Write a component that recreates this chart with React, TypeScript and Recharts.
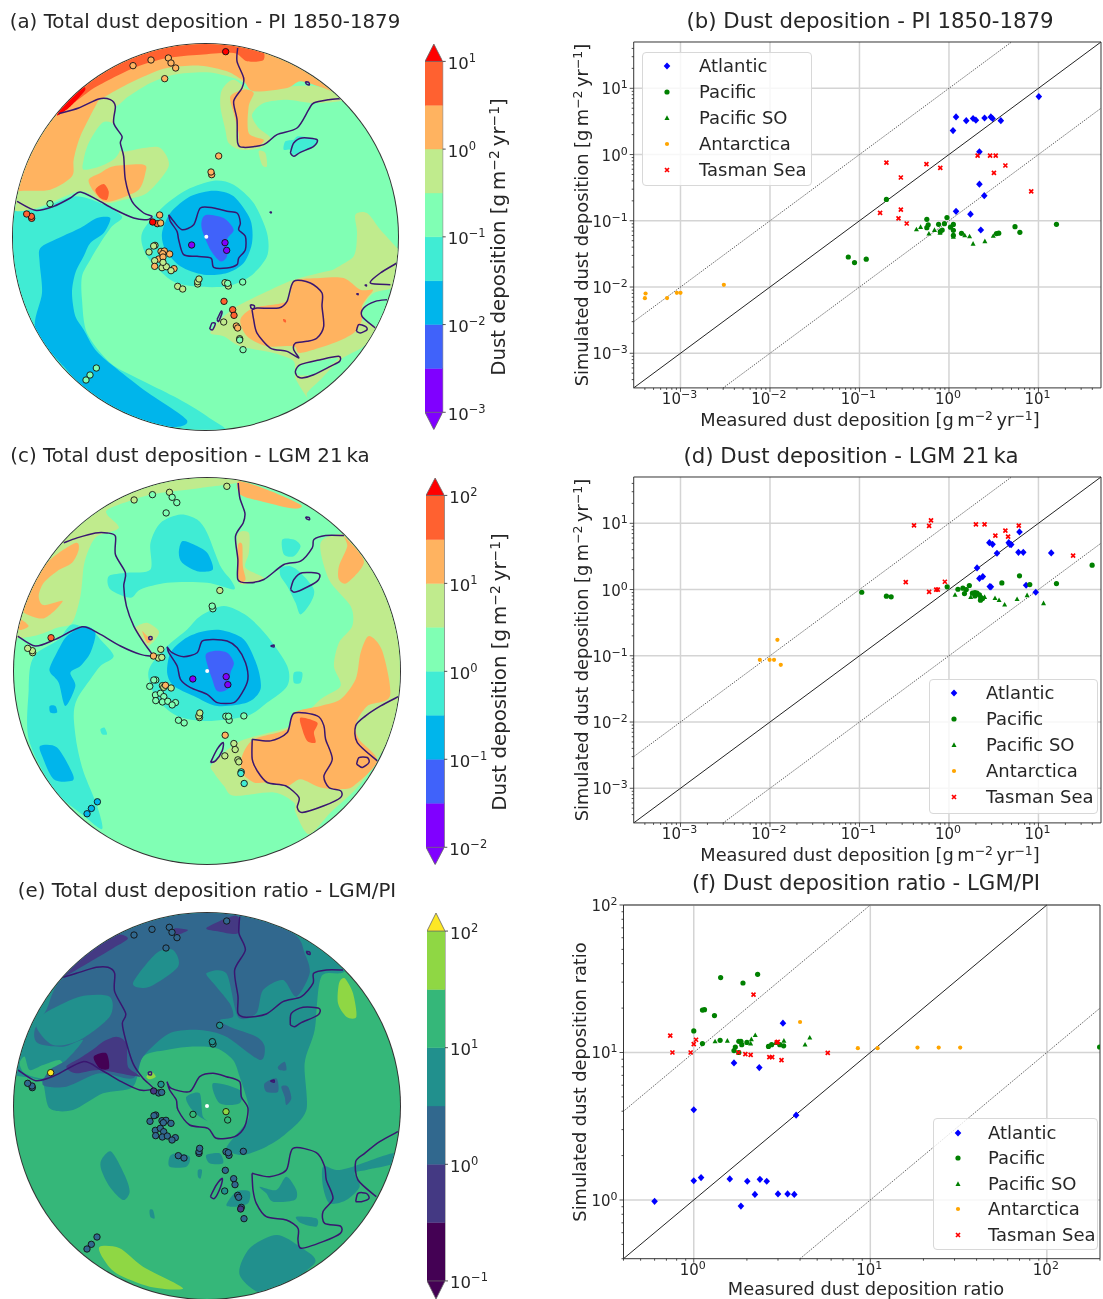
import React from "react";
import { ScatterChart, Scatter, XAxis, YAxis, ReferenceLine, Legend } from "recharts";

type Pt = [number, number];
type Region = [number, Pt[]];
type Station = [number, number, number];

// scatter panels: [measured, simulated]
const seriesNames = ["Atlantic", "Pacific", "Pacific SO", "Antarctica", "Tasman Sea"];

const atlanticPI: Pt[] = [[10.1, 7.5], [1.2, 3.7], [1.56, 3.25], [1.86, 3.5], [2.0, 3.3], [2.5, 3.56], [2.94, 3.7], [3.07, 3.5], [3.8, 3.25], [1.11, 2.3], [2.19, 1.1], [2.19, 0.357], [2.48, 0.239], [1.2, 0.139], [1.74, 0.126], [2.27, 0.0726]];
const pacificPI: Pt[] = [[0.2, 0.21], [0.566, 0.105], [0.95, 0.112], [0.586, 0.087], [0.566, 0.0787], [0.766, 0.0883], [0.89, 0.0904], [1.04, 0.08], [1.12, 0.088], [1.12, 0.0718], [0.84, 0.0726], [0.8, 0.0685], [1.38, 0.0646], [3.4, 0.064], [3.6, 0.065], [5.47, 0.0814], [6.2, 0.067], [15.9, 0.0883], [0.075, 0.0284], [0.088, 0.0234], [0.119, 0.0263], [1.12, 0.06]];
const pacificSoPI: Pt[] = [[0.433, 0.074], [0.482, 0.0805], [0.689, 0.0726], [0.597, 0.064], [0.794, 0.066], [1.12, 0.057], [1.5, 0.06], [1.7, 0.058], [1.86, 0.045], [2.52, 0.049], [3.13, 0.059]];
const antarcticaPI: Pt[] = [[0.000407, 0.00798], [0.0004, 0.00679], [0.000708, 0.0068], [0.00091, 0.00817], [0.001, 0.00817], [0.00305, 0.0108]];
const tasmanPI: Pt[] = [[0.17, 0.132], [0.2, 0.757], [0.29, 0.45], [0.29, 0.147], [0.273, 0.109], [0.337, 0.091], [0.56, 0.715], [0.8, 0.63], [2.09, 0.966], [2.88, 0.966], [3.33, 0.966], [4.27, 0.683], [3.18, 0.53], [8.3, 0.277]];

const atlanticLGM: Pt[] = [[6.14, 7.4], [2.83, 5.1], [3.07, 4.82], [4.66, 5.1], [4.79, 4.82], [4.96, 4.77], [3.44, 3.53], [5.98, 3.65], [6.77, 3.65], [13.9, 3.57], [2.06, 2.12], [2.19, 1.47], [2.39, 1.57], [2.86, 1.11], [2.94, 1.1], [7.28, 1.16], [9.33, 0.91]];
const pacificLGM: Pt[] = [[0.106, 0.91], [0.2, 0.794], [0.226, 0.775], [0.955, 1.1], [1.26, 1.01], [1.43, 1.05], [1.56, 1.0], [1.49, 0.87], [1.69, 1.15], [1.83, 0.88], [1.95, 0.9], [2.06, 0.88], [1.95, 0.8], [2.19, 0.83], [2.27, 0.76], [2.25, 0.69], [2.37, 0.73], [3.9, 1.26], [6.14, 1.61], [15.9, 1.23], [8.0, 1.19], [39.8, 2.33]];
const pacificSoLGM: Pt[] = [[1.17, 0.83], [1.75, 0.77], [2.5, 0.77], [3.27, 0.74], [3.63, 0.69], [4.19, 0.59], [5.77, 0.715], [7.47, 0.82], [11.4, 0.62]];
const antarcticaLGM: Pt[] = [[0.0121, 0.174], [0.0077, 0.087], [0.0099, 0.087], [0.0111, 0.087], [0.0132, 0.073]];
const tasmanLGM: Pt[] = [[0.407, 9.33], [0.6, 9.12], [0.63, 11.1], [2.0, 9.66], [2.5, 9.66], [6.03, 9.23], [4.27, 7.75], [3.3, 6.5], [4.58, 6.3], [24.4, 3.26], [0.329, 1.29], [0.9, 1.31], [0.72, 1.0], [0.75, 1.0], [0.6, 0.92]];

const atlanticRatio: Pt[] = [[0.6, 0.98], [1.0, 1.35], [1.1, 1.42], [1.6, 1.39], [2.01, 1.34], [2.37, 1.38], [2.59, 1.34], [2.22, 1.09], [1.85, 0.91], [3.0, 1.1], [3.4, 1.1], [3.71, 1.09], [3.8, 3.76], [1.0, 4.09], [1.69, 8.5], [2.35, 7.9], [3.2, 15.8]];
const pacificRatio: Pt[] = [[1.42, 32.2], [1.9, 29.6], [2.3, 33.9], [1.12, 19.4], [1.15, 19.5], [1.31, 17.8], [1.0, 14], [1.12, 11.5], [1.41, 12.1], [1.8, 11.9], [1.85, 11.9], [1.87, 11.3], [1.72, 10.9], [1.69, 10.3], [1.8, 10], [2.0, 11.7], [2.65, 11], [2.76, 11.3], [3.07, 11.3], [3.23, 11.1], [199, 10.9]];
const pacificSoRatio: Pt[] = [[1.32, 11.9], [1.55, 12], [2.12, 12.3], [2.1, 11.5], [2.23, 13.1], [3.24, 12], [2.9, 11.6], [4.27, 11.3], [4.54, 12.6]];
const antarcticaRatio: Pt[] = [[4.0, 16.1], [8.5, 10.7], [11, 10.7], [18.5, 10.8], [24.4, 10.8], [32.3, 10.8]];
const tasmanRatio: Pt[] = [[0.736, 13], [0.757, 10], [0.96, 10], [1.0, 11.4], [1.03, 12.2], [1.79, 10], [1.96, 9.75], [2.1, 9.64], [2.68, 9.3], [2.78, 9.3], [3.14, 8.87], [2.18, 24.7], [2.99, 11.8], [2.95, 11.7], [5.74, 9.95]];

const depMajor = [0.001, 0.01, 0.1, 1, 10];
const depMinor = [0.0004, 0.0005, 0.0006, 0.0007, 0.0008, 0.0009, 0.002, 0.003, 0.004, 0.005, 0.006, 0.007, 0.008, 0.009, 0.02, 0.03, 0.04, 0.05, 0.06, 0.07, 0.08, 0.09, 0.2, 0.3, 0.4, 0.5, 0.6, 0.7, 0.8, 0.9, 2, 3, 4, 5, 6, 7, 8, 9, 20, 30, 40];
const ratioMajorX = [1, 10, 100];
const ratioMajorY = [1, 10, 100];
const ratioMinorX = [0.4, 0.5, 0.6, 0.7, 0.8, 0.9, 2, 3, 4, 5, 6, 7, 8, 9, 20, 30, 40, 50, 60, 70, 80, 90, 200];
const ratioMinorY = [0.4, 0.5, 0.6, 0.7, 0.8, 0.9, 2, 3, 4, 5, 6, 7, 8, 9, 20, 30, 40, 50, 60, 70, 80, 90];

// contour levels, low to high
const rainbow = ["#8000ff", "#4062fa", "#00b5eb", "#40ecd4", "#80ffb4", "#c0eb8d", "#ffb360", "#ff6130", "#ff0000"];
const viridis = ["#440154", "#443983", "#31688e", "#21908d", "#35b779", "#8fd744", "#fde725"];
const P = 0, B = 1, S = 2, T = 3, M = 4, L = 5, O = 6, F = 7, R = 8;
const DK = 0, IN = 1, BL = 2, TE = 3, GR = 4, LI = 5, YE = 6;

// map units: x/y across the disc
const mapARegions: Region[] = [
  [T, [[20, 620], [110, 630], [220, 590], [300, 610], [365, 650], [335, 680], [300, 730], [270, 780], [245, 830], [245, 900], [260, 1000], [330, 1090], [420, 1140], [520, 1190], [620, 1250], [680, 1310], [400, 1320], [100, 1150], [0, 800]]],
  [S, [[120, 745], [175, 715], [240, 685], [290, 655], [330, 655], [310, 700], [270, 730], [250, 770], [225, 820], [215, 880], [225, 950], [250, 990], [285, 1050], [340, 1100], [430, 1170], [560, 1262], [490, 1280], [300, 1210], [190, 1100], [105, 990], [125, 880], [118, 790]]],
  [T, [[425, 700], [490, 620], [560, 570], [640, 543], [700, 555], [760, 610], [800, 700], [800, 770], [750, 830], [680, 860], [580, 860], [510, 840], [440, 770]]],
  [S, [[485, 700], [510, 640], [570, 590], [640, 573], [700, 590], [750, 660], [755, 730], [730, 790], [680, 820], [610, 825], [540, 800], [495, 750]]],
  [B, [[605, 660], [620, 645], [670, 655], [700, 690], [680, 720], [680, 770], [660, 785], [630, 750], [605, 690]]],
  [L, [[30, 625], [110, 625], [240, 575], [310, 610], [370, 600], [440, 580], [505, 500], [480, 445], [430, 445], [365, 455], [345, 420], [340, 370], [345, 305], [295, 295], [170, 340], [0, 500]]],
  [M, [[250, 480], [265, 430], [305, 370], [340, 375], [360, 440], [345, 475], [300, 500], [250, 510]]],
  [O, [[0, 600], [55, 575], [150, 570], [215, 530], [220, 480], [240, 410], [290, 310], [300, 295], [180, 335], [100, 400], [0, 500]]],
  [O, [[265, 540], [300, 520], [340, 500], [430, 495], [435, 520], [415, 570], [350, 600], [310, 605], [280, 575]]],
  [F, [[285, 570], [310, 553], [325, 575], [320, 600], [300, 595]]],
  [L, [[300, 300], [345, 320], [385, 290], [450, 250], [520, 225], [620, 218], [700, 235], [740, 250], [735, 190], [600, 180], [400, 200]]],
  [L, [[665, 270], [700, 240], [760, 275], [870, 260], [960, 262], [1030, 300], [940, 310], [860, 300], [790, 310], [755, 345], [775, 385], [810, 415], [780, 445], [720, 450], [685, 430], [675, 390], [660, 320]]],
  [L, [[775, 455], [795, 460], [800, 500], [785, 495]]],
  [O, [[690, 290], [730, 270], [760, 280], [745, 320], [745, 400], [790, 420], [770, 440], [720, 440], [715, 400], [700, 340]]],
  [O, [[170, 345], [295, 300], [350, 270], [420, 235], [500, 205], [600, 198], [680, 215], [730, 245], [760, 275], [860, 265], [900, 245], [960, 262], [1010, 275], [900, 170], [700, 90], [400, 90], [140, 300]]],
  [F, [[172, 342], [240, 295], [290, 260], [400, 205], [500, 175], [600, 165], [700, 160], [740, 185], [790, 180], [770, 140], [600, 110], [400, 140], [160, 320]]],
  [R, [[170, 345], [205, 325], [255, 270], [230, 265]]],
  [L, [[630, 1000], [660, 960], [710, 920], [790, 880], [880, 840], [1000, 810], [1090, 790], [1195, 755], [1210, 800], [1190, 860], [1120, 880], [1090, 920], [1085, 960], [1130, 985], [1090, 1040], [1020, 1080], [960, 1140], [920, 1180], [925, 1200], [885, 1135], [880, 1085], [820, 1060], [720, 1040], [670, 1010]]],
  [L, [[1065, 645], [1100, 640], [1140, 690], [1185, 740], [1200, 770], [1000, 815], [1060, 770], [1070, 700]]],
  [O, [[720, 960], [760, 925], [860, 905], [880, 845], [960, 835], [1030, 835], [1080, 870], [1118, 870], [1100, 895], [1085, 920], [1085, 960], [1060, 1000], [1000, 1030], [900, 1060], [880, 1040], [800, 1040], [740, 1010]]],
  [T, [[855, 425], [880, 420], [895, 410], [950, 420], [940, 440], [880, 465], [870, 450], [850, 450]]],
  [M, [[1090, 930], [1160, 895], [1130, 980]]],
  [M, [[890, 1125], [900, 1097], [1010, 1075], [985, 1100], [940, 1125]]],
  [F, [[848, 958], [856, 960], [857, 968], [850, 966]]],
];
const mapACoasts: Pt[][] = [
  [[50, 605], [105, 632], [160, 620], [210, 595], [240, 577], [290, 600], [340, 628], [400, 655], [440, 660], [455, 650], [430, 640], [395, 605], [375, 540], [370, 470], [360, 430], [365, 410], [340, 370], [345, 320], [330, 300], [295, 298], [235, 325], [175, 342]],
  [[712, 145], [710, 185], [730, 235], [725, 265], [700, 305], [710, 360], [712, 430], [730, 443], [790, 435], [830, 405], [890, 385], [925, 330], [940, 310], [985, 300], [1020, 297]],
  [[505, 645], [520, 665], [545, 690], [580, 675], [600, 625], [640, 625], [680, 635], [710, 640], [720, 670], [715, 690], [735, 710], [735, 750], [715, 775], [710, 795], [680, 805], [640, 803], [632, 775], [590, 770], [550, 765], [535, 720], [530, 695], [510, 665], [505, 645]],
  [[870, 460], [880, 430], [905, 415], [950, 420], [940, 440], [900, 458], [880, 470], [870, 460]],
  [[755, 930], [770, 925], [835, 925], [860, 905], [880, 845], [930, 850], [965, 880], [965, 920], [970, 980], [950, 1015], [920, 1025], [885, 1030], [880, 1050], [895, 1075], [860, 1055], [810, 1045], [770, 1000], [760, 960], [755, 930]],
  [[890, 1130], [885, 1115], [900, 1095], [960, 1080], [1015, 1070], [1018, 1085], [990, 1100], [940, 1125], [905, 1135], [890, 1130]],
  [[1190, 790], [1140, 820], [1110, 850], [1170, 855]],
  [[1160, 900], [1125, 905], [1090, 925], [1085, 950], [1125, 985]],
  [[1068, 995], [1075, 975], [1095, 980], [1100, 990], [1080, 1000], [1068, 995]],
  [[750, 915], [762, 918], [760, 928], [752, 925], [750, 915]],
  [[650, 960], [662, 935], [665, 940], [655, 965], [650, 960]],
  [[628, 988], [635, 970], [645, 972], [637, 990], [628, 988]],
  [[915, 246], [925, 248], [927, 256], [918, 253], [915, 246]],
  [[808, 637], [813, 637], [812, 640], [808, 637]],
  [[1093, 856], [1098, 856], [1098, 859], [1093, 856]],
  [[1068, 882], [1073, 882], [1073, 885], [1068, 882]],
];
const mapAStations: Station[] = [[398, 198, O], [452, 181, O], [504, 175, O], [512, 190, O], [526, 205, O], [493, 237, O], [676, 156, R], [655, 469, O], [634, 525, O], [632, 517, O], [149, 612, M], [94, 656, F], [93, 650, F], [79, 643, F], [478, 646, O], [471, 672, F], [481, 670, O], [457, 667, R], [574, 736, P], [674, 729, P], [679, 752, P], [464, 737, L], [460, 739, L], [446, 757, L], [482, 755, O], [492, 754, O], [508, 763, O], [487, 762, O], [475, 778, O], [463, 783, L], [488, 772, O], [463, 800, O], [485, 804, L], [498, 801, L], [488, 788, L], [521, 807, O], [512, 813, L], [592, 853, L], [592, 846, L], [596, 838, L], [532, 860, L], [547, 868, L], [674, 849, L], [684, 859, L], [682, 851, M], [727, 847, M], [671, 905, F], [697, 930, F], [701, 947, F], [670, 967, L], [708, 979, O], [712, 985, O], [718, 1017, L], [718, 1021, M], [728, 1050, M], [288, 1105, M], [269, 1126, M], [257, 1141, M]];
const mapAPole: Pt[] = [[618, 711]];

const mapCRegions: Region[] = [
  [L, [[80, 420], [200, 270], [320, 140], [600, 90], [720, 125], [600, 145], [450, 165], [330, 205], [320, 225], [355, 265], [290, 290], [265, 330], [250, 380], [240, 470], [215, 550], [170, 565], [100, 590], [30, 590], [30, 500]]],
  [O, [[225, 310], [150, 360], [90, 440], [62, 510], [130, 537], [187, 485], [130, 497], [115, 470], [130, 430], [170, 395], [215, 370], [235, 330]]],
  [O, [[60, 540], [85, 560], [60, 572], [45, 560]]],
  [L, [[635, 975], [720, 905], [870, 860], [960, 780], [1020, 740], [1000, 680], [1015, 610], [1055, 560], [1050, 500], [985, 420], [960, 310], [1030, 285], [1110, 350], [1230, 560], [1230, 780], [1130, 960], [1070, 1045], [990, 1120], [925, 1185], [885, 1120], [880, 1090], [820, 1060], [700, 1070], [670, 1040], [640, 1000]]],
  [O, [[725, 950], [760, 900], [860, 870], [880, 820], [960, 800], [1020, 780], [1065, 720], [1080, 640], [1105, 590], [1145, 635], [1168, 770], [1100, 800], [1065, 855], [1075, 900], [1130, 965], [1060, 1040], [1020, 1050], [960, 1045], [900, 1020], [860, 1040], [800, 1030], [760, 1030], [725, 1000]]],
  [O, [[715, 125], [800, 150], [900, 195], [880, 207], [790, 187], [720, 165]]],
  [O, [[1015, 380], [1040, 320], [1030, 290], [1090, 365], [1040, 430], [1015, 420]]],
  [F, [[900, 835], [950, 850], [940, 880], [945, 910], [920, 905], [905, 870]]],
  [L, [[405, 565], [440, 550], [475, 575], [465, 600], [440, 620], [420, 590]]],
  [O, [[425, 575], [440, 590], [455, 600], [440, 610]]],
  [L, [[710, 290], [745, 280], [745, 340], [735, 385], [790, 415], [755, 430], [715, 425]]],
  [O, [[712, 320], [725, 315], [727, 380], [735, 420], [715, 425]]],
  [T, [[450, 310], [480, 250], [540, 225], [590, 240], [620, 280], [660, 380], [690, 420], [700, 450], [620, 430], [500, 430], [420, 450], [390, 475], [330, 450], [325, 410], [380, 400], [450, 390]]],
  [S, [[535, 340], [545, 305], [580, 315], [620, 340], [637, 390], [590, 395], [545, 370]]],
  [T, [[845, 300], [880, 300], [900, 320], [880, 350], [850, 345]]],
  [T, [[840, 385], [870, 380], [900, 400], [940, 450], [930, 490], [900, 525], [885, 490], [860, 440], [840, 410]]],
  [T, [[450, 680], [500, 620], [560, 570], [600, 530], [670, 500], [740, 530], [800, 590], [860, 680], [860, 740], [800, 790], [740, 830], [620, 845], [530, 830], [470, 780], [445, 720]]],
  [S, [[500, 700], [510, 640], [550, 600], [600, 578], [660, 572], [730, 600], [770, 680], [780, 750], [740, 790], [650, 800], [580, 770], [520, 740]]],
  [B, [[615, 650], [640, 635], [680, 640], [700, 670], [690, 700], [680, 750], [650, 755], [635, 720]]],
  [T, [[90, 680], [110, 640], [175, 600], [215, 555], [280, 580], [300, 600], [340, 650], [300, 680], [270, 720], [230, 780], [220, 830], [230, 920], [250, 1000], [290, 1100], [305, 1170], [250, 1130], [160, 1050], [85, 900], [85, 750]]],
  [S, [[150, 680], [180, 620], [200, 590], [250, 560], [285, 580], [270, 640], [240, 680], [210, 700], [225, 740], [195, 800], [175, 730], [150, 700]]],
  [S, [[120, 920], [170, 925], [215, 1000], [215, 1025], [160, 1020], [125, 950]]],
  [S, [[148, 800], [165, 800], [170, 820], [150, 820]]],
  [T, [[880, 700], [905, 700], [900, 730], [880, 730]]],
  [T, [[300, 870], [312, 865], [320, 885], [305, 885]]],
];
const mapCCoasts: Pt[][] = [
  [[52, 590], [105, 620], [165, 600], [245, 562], [300, 585], [360, 620], [420, 645], [455, 647], [430, 610], [400, 560], [378, 500], [370, 440], [375, 400], [345, 345], [345, 290], [320, 280], [285, 280], [230, 295], [190, 310]],
  [[713, 130], [718, 175], [733, 220], [728, 250], [705, 290], [712, 360], [712, 420], [740, 430], [790, 420], [850, 375], [900, 365], [935, 325], [940, 300], [975, 288], [1030, 288]],
  [[500, 622], [515, 640], [550, 652], [590, 640], [605, 605], [640, 600], [680, 605], [710, 625], [735, 670], [742, 720], [725, 760], [700, 790], [650, 790], [620, 765], [570, 745], [540, 720], [530, 680], [505, 640], [500, 622]],
  [[870, 450], [880, 420], [905, 400], [955, 403], [950, 425], [905, 450], [880, 458], [870, 450]],
  [[755, 900], [810, 905], [860, 880], [880, 822], [950, 830], [970, 860], [975, 900], [995, 960], [970, 1010], [985, 1045], [1020, 1055], [1020, 1075], [970, 1100], [905, 1120], [890, 1105], [895, 1075], [855, 1040], [800, 1030], [770, 995], [755, 960], [755, 900]],
  [[1193, 772], [1140, 800], [1095, 830], [1065, 860], [1070, 910], [1130, 965]],
  [[1068, 975], [1075, 955], [1100, 955], [1105, 970], [1085, 985], [1068, 975]],
  [[630, 970], [650, 930], [668, 910], [665, 935], [645, 965], [630, 970]],
  [[445, 592], [454, 592], [454, 600], [446, 600], [445, 592]],
  [[810, 620], [820, 617], [820, 623], [810, 620]],
  [[915, 232], [925, 233], [927, 240], [918, 238], [915, 232]],
];
const mapCStations: Station[] = [[401, 181, L], [456, 165, M], [507, 158, L], [515, 173, M], [529, 189, M], [497, 220, M], [679, 140, L], [658, 453, L], [637, 508, M], [635, 500, M], [152, 595, F], [97, 640, L], [96, 634, L], [82, 627, L], [481, 630, L], [474, 656, L], [484, 654, L], [459, 650, O], [577, 719, P], [677, 712, P], [682, 736, P], [466, 722, M], [460, 722, M], [448, 741, M], [486, 739, L], [490, 744, L], [495, 738, O], [512, 746, L], [465, 767, M], [480, 762, M], [490, 772, M], [466, 784, M], [486, 788, M], [502, 786, M], [525, 790, M], [515, 797, M], [597, 835, L], [595, 830, L], [598, 821, L], [534, 843, M], [551, 851, M], [676, 831, M], [686, 843, M], [684, 831, M], [730, 830, M], [674, 888, O], [700, 913, L], [704, 931, L], [673, 950, L], [712, 962, L], [715, 968, L], [722, 998, T], [721, 1003, T], [731, 1033, T], [291, 1088, S], [273, 1108, S], [260, 1124, S]];
const mapCPole: Pt[] = [[620, 695]];

const mapERegions: Region[] = [
  [TE, [[30, 605], [100, 625], [130, 640], [150, 715], [220, 720], [310, 670], [400, 650], [430, 560], [500, 540], [570, 530], [650, 535], [700, 570], [720, 620], [745, 700], [745, 750], [700, 805], [680, 840], [730, 855], [800, 830], [860, 790], [920, 720], [915, 580], [945, 480], [965, 320], [1040, 295], [1020, 90], [100, 90], [20, 500]]],
  [GR, [[60, 580], [75, 560], [90, 600], [130, 585], [180, 570], [190, 600], [130, 625], [75, 610]]],
  [BL, [[130, 645], [200, 650], [300, 610], [400, 625], [430, 560], [510, 490], [600, 480], [680, 500], [780, 570], [795, 530], [770, 500], [690, 470], [660, 450], [700, 440], [690, 400], [650, 350], [620, 310], [680, 310], [715, 440], [770, 430], [790, 360], [850, 330], [890, 380], [930, 310], [915, 250], [880, 190], [700, 110], [400, 130], [190, 320], [140, 420], [105, 480], [115, 520], [190, 530], [250, 510], [200, 570], [150, 600]]],
  [TE, [[400, 340], [470, 250], [520, 240], [535, 290], [450, 350]]],
  [TE, [[110, 470], [135, 430], [240, 380], [330, 380], [330, 440], [240, 510], [160, 525]]],
  [IN, [[190, 322], [230, 300], [340, 235], [385, 205], [340, 195], [240, 250], [180, 320]]],
  [IN, [[620, 175], [680, 145], [715, 140], [715, 190], [660, 185]]],
  [IN, [[525, 175], [565, 180], [530, 195]]],
  [IN, [[200, 590], [240, 565], [285, 535], [310, 515], [350, 500], [380, 520], [385, 590], [420, 620], [300, 600], [230, 610]]],
  [DK, [[282, 560], [320, 550], [328, 595], [300, 595]]],
  [BL, [[795, 640], [830, 625], [835, 665], [800, 665]]],
  [BL, [[835, 590], [855, 575], [860, 600], [840, 600]]],
  [BL, [[845, 650], [865, 650], [875, 685], [860, 705], [855, 680]]],
  [TE, [[640, 640], [720, 660], [720, 700], [660, 700]]],
  [TE, [[560, 680], [600, 670], [610, 740], [640, 760], [600, 740], [570, 710]]],
  [TE, [[780, 950], [830, 960], [860, 920], [890, 960], [885, 990], [820, 995], [800, 970]]],
  [TE, [[890, 1040], [950, 1045], [950, 1070], [905, 1060]]],
  [TE, [[970, 890], [1010, 900], [1060, 890], [1180, 850], [1185, 880], [1100, 900], [1065, 910], [1080, 950], [1040, 990], [990, 1000], [970, 950]]],
  [TE, [[720, 1215], [750, 1135], [830, 1095], [900, 1130], [945, 1180], [800, 1270]]],
  [TE, [[305, 870], [335, 845], [375, 915], [390, 965], [370, 990], [330, 950], [305, 900]]],
  [TE, [[680, 1005], [710, 965], [750, 965], [745, 1000], [710, 1010]]],
  [TE, [[620, 855], [660, 850], [670, 880], [630, 880]]],
  [TE, [[510, 860], [530, 850], [570, 860], [560, 890], [510, 890]]],
  [TE, [[450, 1020], [460, 1020], [465, 1045], [452, 1040]]],
  [TE, [[595, 900], [607, 900], [603, 925], [595, 920]]],
  [LI, [[300, 1130], [360, 1135], [430, 1190], [550, 1255], [450, 1250], [350, 1210], [310, 1165]]],
  [LI, [[1018, 340], [1035, 325], [1060, 370], [1070, 440], [1040, 440], [1015, 400]]],
  [LI, [[440, 620], [455, 605], [468, 620], [450, 628]]],
];
const mapECoasts: Pt[][] = [
  [[55, 600], [108, 632], [165, 617], [250, 575], [305, 600], [365, 635], [420, 660], [460, 655], [430, 625], [400, 580], [378, 510], [368, 460], [378, 430], [345, 365], [345, 310], [325, 292], [290, 292], [230, 310], [190, 322]],
  [[720, 140], [718, 190], [737, 240], [705, 300], [715, 380], [715, 430], [740, 442], [800, 432], [850, 395], [905, 380], [940, 340], [942, 310], [980, 300], [1030, 300]],
  [[502, 635], [515, 655], [570, 665], [600, 620], [640, 610], [680, 620], [720, 635], [725, 680], [745, 715], [735, 770], [705, 800], [650, 805], [625, 775], [570, 765], [535, 720], [530, 690], [510, 660], [502, 635]],
  [[872, 465], [875, 430], [910, 412], [958, 415], [955, 435], [905, 458], [885, 470], [872, 465]],
  [[757, 910], [810, 920], [860, 900], [880, 835], [950, 848], [975, 890], [980, 930], [1000, 985], [970, 1025], [975, 1060], [1022, 1068], [1022, 1090], [970, 1115], [905, 1135], [895, 1110], [895, 1075], [860, 1050], [800, 1040], [770, 1000], [760, 960], [757, 910]],
  [[1195, 785], [1140, 815], [1095, 850], [1068, 875], [1075, 930], [1130, 980]],
  [[1068, 995], [1075, 970], [1100, 970], [1108, 985], [1085, 995], [1068, 995]],
  [[632, 980], [650, 945], [668, 925], [663, 950], [645, 985], [632, 980]],
  [[446, 606], [455, 606], [455, 614], [447, 614], [446, 606]],
  [[812, 633], [823, 630], [823, 637], [812, 633]],
  [[920, 244], [930, 246], [931, 253], [923, 251], [920, 244]],
];
const mapEStations: Station[] = [[403, 195, BL], [457, 178, BL], [509, 172, BL], [517, 187, BL], [532, 203, BL], [499, 234, BL], [681, 153, BL], [660, 466, TE], [640, 522, TE], [638, 515, TE], [153, 608, YE], [98, 653, BL], [97, 648, BL], [84, 640, BL], [484, 643, TE], [477, 669, BL], [486, 667, BL], [462, 663, IN], [580, 733, GR], [679, 725, LI], [684, 750, GR], [468, 735, BL], [463, 737, BL], [451, 754, BL], [487, 752, BL], [499, 751, BL], [514, 760, BL], [491, 758, BL], [467, 781, BL], [482, 775, BL], [492, 785, BL], [468, 797, BL], [488, 801, BL], [503, 798, BL], [527, 803, BL], [517, 810, BL], [598, 850, BL], [598, 845, BL], [600, 835, BL], [536, 857, BL], [553, 864, BL], [679, 845, BL], [688, 856, BL], [686, 848, BL], [731, 844, BL], [677, 901, BL], [702, 926, BL], [706, 944, BL], [675, 963, TE], [714, 976, BL], [717, 982, BL], [725, 1012, BL], [723, 1017, IN], [733, 1046, BL], [292, 1101, BL], [275, 1123, BL], [262, 1137, BL]];
const mapEPole: Pt[] = [[622, 708]];

const font = "'DejaVu Sans', sans-serif";
const ink = "#262626";

const exponent = (v: number) => String(Math.round(Math.log10(v))).replace("-", "\u2212");

function Sup({ children }: { children: React.ReactNode }) {
  return <sup style={{ fontSize: "0.7em", lineHeight: 0, verticalAlign: "baseline", position: "relative", top: "-0.45em" }}>{children}</sup>;
}

const Units = () => (
  <>
    [g&#8201;m<Sup>{"\u2212"}2</Sup>&#8201;yr<Sup>{"\u2212"}1</Sup>]
  </>
);

function Caption({ x, y, size, rotate, children }: { x: number; y: number; size: number; rotate?: boolean; children: React.ReactNode }) {
  return (
    <div
      style={{
        position: "absolute",
        left: x,
        top: y,
        fontSize: size,
        lineHeight: 1,
        color: ink,
        whiteSpace: "nowrap",
        transform: `translate(-50%,-50%)${rotate ? " rotate(-90deg)" : ""}`,
      }}
    >
      {children}
    </div>
  );
}

const toXY = (pts: Pt[]) => pts.map(([x, y]) => ({ x, y }));

// cardinal spline through the outline points
function splinePath(points: { x: number; y: number }[], closed: boolean) {
  const n = points.length;
  const k = 0.14;
  const at = (i: number) => (closed ? points[(i + n) % n] : points[Math.max(0, Math.min(n - 1, i))]);
  let d = `M${points[0].x},${points[0].y}`;
  const last = closed ? n : n - 1;
  for (let i = 0; i < last; i++) {
    const p0 = at(i - 1), p1 = at(i), p2 = at(i + 1), p3 = at(i + 2);
    d += `C${p1.x + (p2.x - p0.x) * k},${p1.y + (p2.y - p0.y) * k} ${p2.x - (p3.x - p1.x) * k},${p2.y - (p3.y - p1.y) * k} ${p2.x},${p2.y}`;
  }
  return closed ? d + "Z" : d;
}

const noDot = () => <g />;

function MapPanel({ left, top, size, xDomain, yDomain, palette, base, regions, coasts, stations, pole }: any) {
  return (
    <div style={{ position: "absolute", left, top, width: size, height: size, borderRadius: "50%", overflow: "hidden", background: palette[base], boxShadow: "0 0 0 1px #333" }}>
      <ScatterChart width={size} height={size} margin={{ top: 0, right: 0, bottom: 0, left: 0 }}>
        <XAxis type="number" dataKey="x" domain={xDomain} hide allowDataOverflow />
        <YAxis type="number" dataKey="y" domain={yDomain} hide reversed allowDataOverflow />
        {regions.map(([band, pts]: Region, i: number) => (
          <Scatter
            key={`r${i}`}
            data={toXY(pts)}
            isAnimationActive={false}
            shape={noDot}
            line={(p: any) => <path d={splinePath(p.points, true)} fill={palette[band]} stroke="none" />}
          />
        ))}
        {coasts.map((pts: Pt[], i: number) => (
          <Scatter
            key={`c${i}`}
            data={toXY(pts)}
            isAnimationActive={false}
            shape={noDot}
            line={(p: any) => <path d={splinePath(p.points, false)} fill="none" stroke="#3a1670" strokeWidth={1.5} />}
          />
        ))}
        <Scatter
          data={stations.map(([x, y, band]: Station) => ({ x, y, band }))}
          isAnimationActive={false}
          shape={(p: any) => <circle cx={p.cx} cy={p.cy} r={3.2} fill={palette[p.payload.band]} stroke="#111" strokeWidth={0.9} />}
        />
        <Scatter data={toXY(pole)} isAnimationActive={false} shape={(p: any) => <circle cx={p.cx} cy={p.cy} r={2} fill="#fff" />} />
      </ScatterChart>
    </div>
  );
}

function ColorBar({ left, top, barWidth, height, lo, hi, overshoot, palette }: any) {
  const bands = palette.slice(0, palette.length - 1);
  const ticks: number[] = [];
  for (let e = lo; e <= hi; e++) ticks.push(e);
  const tip = (y: number, tipY: number) => [{ x: 0, y }, { x: 0.5, y: tipY }, { x: 1, y }];
  return (
    <div style={{ position: "absolute", left, top }}>
      <ScatterChart width={barWidth + 46} height={height} margin={{ top: 0, right: 0, bottom: 0, left: 0 }}>
        <XAxis type="number" dataKey="x" domain={[0, 1]} hide allowDataOverflow />
        <YAxis
          type="number"
          dataKey="y"
          orientation="right"
          width={46}
          domain={[lo - overshoot, hi + overshoot]}
          ticks={ticks}
          interval={0}
          allowDataOverflow
          tickSize={0}
          tickMargin={0}
          axisLine={false}
          tickLine={false}
          tick={(p: any) => (
            <g>
              <line x1={p.x} x2={p.x + 3} y1={p.y} y2={p.y} stroke={ink} strokeWidth={0.8} />
              <text x={p.x + 5} y={p.y + 7.5} fontSize={16.5} fill={ink} fontFamily={font}>
                10
                <tspan dy={-7} fontSize={11.5}>
                  {String(p.payload.value).replace("-", "\u2212")}
                </tspan>
              </text>
            </g>
          )}
        />
        {bands.map((c: string, i: number) => (
          <Scatter
            key={c + i}
            data={[
              { x: 0, y: lo + i * 0.5 },
              { x: 1, y: lo + i * 0.5 },
              { x: 1, y: lo + (i + 1) * 0.5 },
              { x: 0, y: lo + (i + 1) * 0.5 },
            ]}
            isAnimationActive={false}
            shape={noDot}
            line={(p: any) => <path d={`M${p.points.map((q: any) => `${q.x},${q.y}`).join("L")}Z`} fill={c} stroke={c} strokeWidth={0.4} />}
          />
        ))}
        {[
          { d: tip(hi, hi + overshoot), c: palette[palette.length - 1] },
          { d: tip(lo, lo - overshoot), c: palette[0] },
        ].map((t, i) => (
          <Scatter
            key={`tip${i}`}
            data={t.d}
            isAnimationActive={false}
            shape={noDot}
            line={(p: any) => <path d={`M${p.points.map((q: any) => `${q.x},${q.y}`).join("L")}Z`} fill={t.c} stroke="#666" strokeWidth={0.8} />}
          />
        ))}
        <ReferenceLine segment={[{ x: 0, y: lo }, { x: 0, y: hi }]} stroke="#777" strokeWidth={1} />
        <ReferenceLine segment={[{ x: 1, y: lo }, { x: 1, y: hi }]} stroke="#777" strokeWidth={1} />
      </ScatterChart>
    </div>
  );
}

function Marker({ kind, x, y }: { kind: number; x: number; y: number }) {
  if (kind === 0) return <path d={`M${x},${y - 3.6}L${x + 3.3},${y}L${x},${y + 3.6}L${x - 3.3},${y}Z`} fill="#0000ff" />;
  if (kind === 1) return <circle cx={x} cy={y} r={2.6} fill="#008000" />;
  if (kind === 2) return <path d={`M${x},${y - 2.7}L${x + 2.5},${y + 1.9}L${x - 2.5},${y + 1.9}Z`} fill="#008000" />;
  if (kind === 3) return <circle cx={x} cy={y} r={2.1} fill="#ffa500" />;
  return <path d={`M${x - 2},${y - 2}L${x + 2},${y + 2}M${x + 2},${y - 2}L${x - 2},${y + 2}`} stroke="#ff0000" strokeWidth={1.7} fill="none" />;
}

function LogTick({ axis, majors, ...p }: any) {
  const v = p.payload.value;
  const major = majors.includes(v);
  const len = major ? 4 : 2;
  if (axis === "x") {
    return (
      <g>
        <line x1={p.x} x2={p.x} y1={p.y} y2={p.y + len} stroke={ink} strokeWidth={0.8} />
        {major && (
          <text x={p.x - 1} y={p.y + 16.5} fontSize={15} textAnchor="middle" fill={ink} fontFamily={font}>
            10
            <tspan dy={-6} fontSize={11}>
              {exponent(v)}
            </tspan>
          </text>
        )}
      </g>
    );
  }
  return (
    <g>
      <line x1={p.x - len} x2={p.x} y1={p.y} y2={p.y} stroke={ink} strokeWidth={0.8} />
      {major && (
        <text x={p.x - 6} y={p.y + 6} fontSize={15} textAnchor="end" fill={ink} fontFamily={font}>
          10
          <tspan dy={-6} fontSize={11}>
            {exponent(v)}
          </tspan>
        </text>
      )}
    </g>
  );
}

function ScatterPanel({ chartLeft, plot, xDomain, yDomain, xMajor, yMajor, xMinor, yMinor, series, diagonals, legendBox }: any) {
  const chartTop = plot.top - 14;
  const chartWidth = 1103 - chartLeft;
  const chartHeight = plot.bottom + 24 - chartTop;
  return (
    <div style={{ position: "absolute", left: chartLeft, top: chartTop }}>
      <ScatterChart width={chartWidth} height={chartHeight} margin={{ top: 14, right: 1103 - plot.right, bottom: 0, left: 0 }}>
        <XAxis
          type="number"
          dataKey="x"
          scale="log"
          domain={xDomain}
          allowDataOverflow
          ticks={[...xMinor, ...xMajor]}
          interval={0}
          height={24}
          tickSize={0}
          tickMargin={0}
          axisLine={false}
          tickLine={false}
          tick={(p: any) => <LogTick axis="x" majors={xMajor} {...p} />}
        />
        <YAxis
          type="number"
          dataKey="y"
          scale="log"
          domain={yDomain}
          allowDataOverflow
          ticks={[...yMinor, ...yMajor]}
          interval={0}
          width={plot.left - chartLeft}
          tickSize={0}
          tickMargin={0}
          axisLine={false}
          tickLine={false}
          tick={(p: any) => <LogTick axis="y" majors={yMajor} {...p} />}
        />
        {xMajor.map((v: number) => (
          <ReferenceLine key={`gx${v}`} x={v} stroke="#d4d4d4" strokeWidth={1.5} />
        ))}
        {yMajor.map((v: number) => (
          <ReferenceLine key={`gy${v}`} y={v} stroke="#d4d4d4" strokeWidth={1.5} />
        ))}
        {diagonals.map((seg: any, i: number) => (
          <ReferenceLine
            key={`d${i}`}
            segment={[{ x: seg[0], y: seg[1] }, { x: seg[2], y: seg[3] }]}
            stroke={i === 0 ? "#222" : "#444"}
            strokeWidth={i === 0 ? 1 : 0.9}
            strokeDasharray={i === 0 ? undefined : "1.2 1.2"}
          />
        ))}
        {series.map((pts: Pt[], k: number) => (
          <Scatter
            key={seriesNames[k]}
            name={seriesNames[k]}
            data={toXY(pts)}
            isAnimationActive={false}
            shape={(p: any) => <Marker kind={k} x={p.cx} y={p.cy} />}
          />
        ))}
        <ReferenceLine x={xDomain[0]} stroke="#333" strokeWidth={1} />
        <ReferenceLine x={xDomain[1]} stroke="#333" strokeWidth={1} />
        <ReferenceLine y={yDomain[0]} stroke="#333" strokeWidth={1} />
        <ReferenceLine y={yDomain[1]} stroke="#333" strokeWidth={1} />
        <Legend
          layout="vertical"
          align="center"
          verticalAlign="middle"
          wrapperStyle={{ left: legendBox.left - chartLeft, top: legendBox.top - chartTop, width: legendBox.width, height: legendBox.height }}
          content={() => (
            <div
              style={{
                width: legendBox.width,
                height: legendBox.height,
                boxSizing: "border-box",
                background: "rgba(255,255,255,0.8)",
                border: "1px solid #d8d8d8",
                borderRadius: 4,
                position: "relative",
              }}
            >
              {seriesNames.map((name, k) => (
                <div key={name} style={{ position: "absolute", left: 0, top: 0.5 + k * legendBox.row, height: 26, lineHeight: "26px", fontSize: 18, color: ink, whiteSpace: "nowrap" }}>
                  <svg width={10} height={10} style={{ position: "absolute", left: 19, top: 8 }}>
                    <Marker kind={k} x={5} y={5} />
                  </svg>
                  <span style={{ marginLeft: legendBox.text }}>{name}</span>
                </div>
              ))}
            </div>
          )}
        />
      </ScatterChart>
    </div>
  );
}

export default function App() {
  const depDomain = [0.0003, 50];
  const depDiagonals = [
    [0.0003, 0.0003, 50, 50],
    [0.0003, 0.003, 5, 50],
    [0.003, 0.0003, 50, 5],
  ];
  return (
    <div style={{ position: "absolute", left: 0, top: 0, width: 1103, height: 1299, overflow: "hidden", background: "#fff", fontFamily: font, filter: "blur(0.45px)" }}>
      <Caption x={205} y={22} size={19.8}>(a) Total dust deposition - PI 1850-1879</Caption>
      <Caption x={190} y={456} size={19.8}>(c) Total dust deposition - LGM 21&#8201;ka</Caption>
      <Caption x={207} y={891} size={19.8}>(e) Total dust deposition ratio - LGM/PI</Caption>
      <Caption x={870} y={21} size={21.3}>(b) Dust deposition - PI 1850-1879</Caption>
      <Caption x={851} y={456} size={21.3}>(d) Dust deposition - LGM 21&#8201;ka</Caption>
      <Caption x={866} y={883} size={21.3}>(f) Dust deposition ratio - LGM/PI</Caption>

      <MapPanel left={12.7} top={44.3} size={385.7} xDomain={[38, 1195]} yDomain={[133, 1290]} palette={rainbow} base={M} regions={mapARegions} coasts={mapACoasts} stations={mapAStations} pole={mapAPole} />
      <MapPanel left={13.7} top={478.3} size={386} xDomain={[41, 1198]} yDomain={[115, 1275]} palette={rainbow} base={M} regions={mapCRegions} coasts={mapCCoasts} stations={mapCStations} pole={mapCPole} />
      <MapPanel left={14.3} top={913} size={386} xDomain={[43, 1201]} yDomain={[129, 1287]} palette={viridis} base={GR} regions={mapERegions} coasts={mapECoasts} stations={mapEStations} pole={mapEPole} />

      <ColorBar left={425} top={44.3} barWidth={17.7} height={385.7} lo={-3} hi={1} overshoot={0.198} palette={rainbow} />
      <ColorBar left={425.7} top={478.3} barWidth={18.3} height={386.7} lo={-2} hi={2} overshoot={0.198} palette={rainbow} />
      <ColorBar left={426.7} top={913} barWidth={18} height={386} lo={-1} hi={2} overshoot={0.155} palette={viridis} />
      <Caption x={499} y={237} size={19.8} rotate>Dust deposition <Units /></Caption>
      <Caption x={500} y={672} size={19.8} rotate>Dust deposition <Units /></Caption>

      <ScatterPanel
        chartLeft={585}
        plot={{ left: 633.7, right: 1101, top: 41.7, bottom: 387.6 }}
        xDomain={depDomain}
        yDomain={depDomain}
        xMajor={depMajor}
        yMajor={depMajor}
        xMinor={depMinor}
        yMinor={depMinor}
        series={[atlanticPI, pacificPI, pacificSoPI, antarcticaPI, tasmanPI]}
        diagonals={depDiagonals}
        legendBox={{ left: 642, top: 52, width: 170, height: 134, row: 26, text: 56 }}
      />
      <ScatterPanel
        chartLeft={585}
        plot={{ left: 633.7, right: 1101, top: 477.3, bottom: 823.2 }}
        xDomain={depDomain}
        yDomain={depDomain}
        xMajor={depMajor}
        yMajor={depMajor}
        xMinor={depMinor}
        yMinor={depMinor}
        series={[atlanticLGM, pacificLGM, pacificSoLGM, antarcticaLGM, tasmanLGM]}
        diagonals={depDiagonals}
        legendBox={{ left: 929, top: 679, width: 169, height: 135, row: 26, text: 56 }}
      />
      <ScatterPanel
        chartLeft={585}
        plot={{ left: 623.5, right: 1100, top: 905, bottom: 1258.7 }}
        xDomain={[0.4, 200]}
        yDomain={[0.4, 100]}
        xMajor={ratioMajorX}
        yMajor={ratioMajorY}
        xMinor={ratioMinorX}
        yMinor={ratioMinorY}
        series={[atlanticRatio, pacificRatio, pacificSoRatio, antarcticaRatio, tasmanRatio]}
        diagonals={[
          [0.4, 0.4, 100, 100],
          [0.4, 4, 10, 100],
          [4, 0.4, 200, 20],
        ]}
        legendBox={{ left: 933, top: 1118, width: 165, height: 132, row: 25.5, text: 54 }}
      />

      <Caption x={870} y={420} size={17.8}>Measured dust deposition <Units /></Caption>
      <Caption x={870} y={855} size={17.8}>Measured dust deposition <Units /></Caption>
      <Caption x={866} y={1289} size={17.8}>Measured dust deposition ratio</Caption>
      <Caption x={582} y={215} size={17.8} rotate>Simulated dust deposition <Units /></Caption>
      <Caption x={582} y={650} size={17.8} rotate>Simulated dust deposition <Units /></Caption>
      <Caption x={580} y={1082} size={17.8} rotate>Simulated dust deposition ratio</Caption>
    </div>
  );
}
